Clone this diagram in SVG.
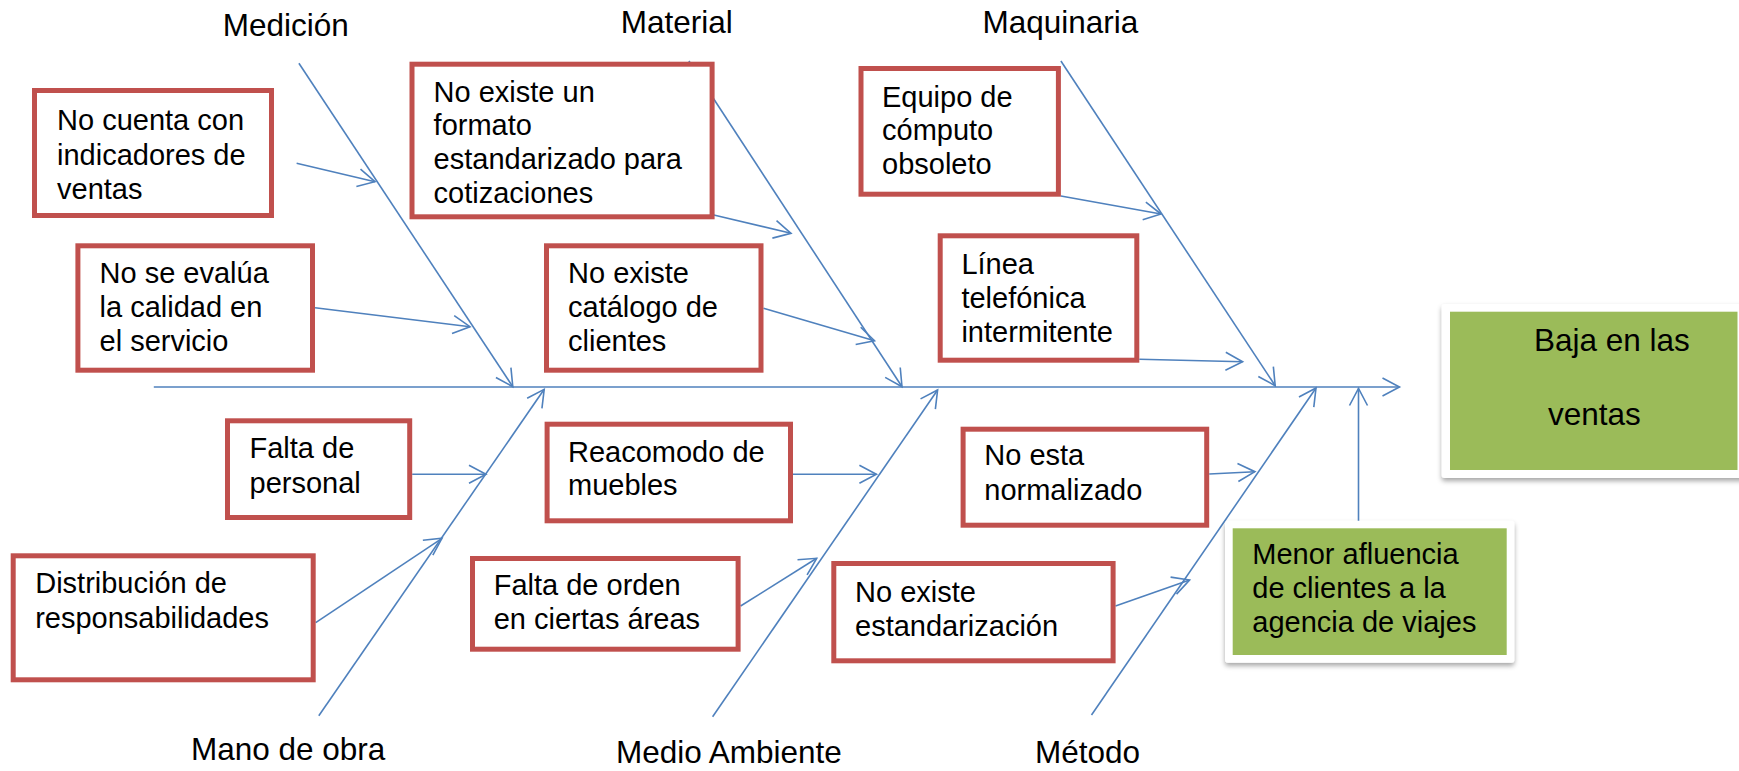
<svg xmlns="http://www.w3.org/2000/svg" width="1739" height="771" viewBox="0 0 1739 771">
<style>
.t{font-family:"Liberation Sans",Arial,sans-serif;font-size:29px;fill:#000}
.lbl{font-family:"Liberation Sans",Arial,sans-serif;font-size:31.5px;fill:#000}
.box{fill:#fff;stroke:#C0504D;stroke-width:5}
.ln{fill:none;stroke:#4F81BD;stroke-width:1.6;marker-end:url(#ah)}
.card{fill:#fff;filter:url(#sh)}
.grn{fill:#9BBB59}
</style>
<defs>
<marker id="ah" viewBox="-19 -11 22 22" markerWidth="22" markerHeight="22" refX="0" refY="0" orient="auto" markerUnits="userSpaceOnUse">
<path d="M-17,-9 L0,0 L-17,9" fill="none" stroke="#4F81BD" stroke-width="1.6"/>
</marker>
<filter id="sh" x="-10%" y="-10%" width="120%" height="130%">
<feDropShadow dx="0" dy="3" stdDeviation="2.5" flood-color="#000" flood-opacity="0.35"/>
</filter>
</defs>

<g id="labels">
<text class="lbl" x="222.7" y="36">Medición</text>
<text class="lbl" x="620.8" y="33">Material</text>
<text class="lbl" x="982.4" y="33">Maquinaria</text>
<text class="lbl" x="191" y="760">Mano de obra</text>
<text class="lbl" x="616" y="763">Medio Ambiente</text>
<text class="lbl" x="1035" y="763">Método</text>
</g>

<g id="connectors">
<line class="ln" x1="153.8" y1="387" x2="1399.5" y2="387"/>
<line class="ln" x1="298.9" y1="63.3" x2="512.8" y2="386.7"/>
<line class="ln" x1="688.9" y1="61" x2="902" y2="386.7"/>
<line class="ln" x1="1060.9" y1="61" x2="1275.2" y2="385.7"/>
<line class="ln" x1="318.8" y1="715.7" x2="544.2" y2="389.3"/>
<line class="ln" x1="712.6" y1="716.7" x2="937.6" y2="390"/>
<line class="ln" x1="1091.5" y1="715" x2="1316" y2="388"/>
<line class="ln" x1="1358.5" y1="526" x2="1358.5" y2="388.5"/>
<line class="ln" x1="296.6" y1="163.3" x2="375" y2="181.7"/>
<line class="ln" x1="315" y1="307.7" x2="470" y2="326.7"/>
<line class="ln" x1="713.8" y1="215" x2="791" y2="233.3"/>
<line class="ln" x1="763.5" y1="308.3" x2="874.5" y2="340.7"/>
<line class="ln" x1="1060.9" y1="196" x2="1161" y2="214"/>
<line class="ln" x1="1139.3" y1="359.3" x2="1242.6" y2="361.7"/>
<line class="ln" x1="412.2" y1="474.3" x2="486" y2="474.3"/>
<line class="ln" x1="315.7" y1="622.7" x2="442" y2="538.3"/>
<line class="ln" x1="793" y1="474.3" x2="876.4" y2="474.3"/>
<line class="ln" x1="740.6" y1="606" x2="816.7" y2="558.3"/>
<line class="ln" x1="1209.2" y1="474" x2="1254.9" y2="471.7"/>
<line class="ln" x1="1115.5" y1="606" x2="1189.6" y2="580"/>
</g>

<g id="n-indicadores">
<rect class="box" x="34.5" y="90.5" width="237" height="125"/>
<text class="t" x="57" y="130">No cuenta con</text>
<text class="t" x="57" y="164.5">indicadores de</text>
<text class="t" x="57" y="198.5">ventas</text>
</g>
<g id="n-calidad">
<rect class="box" x="77.9" y="245.8" width="234.6" height="124.4"/>
<text class="t" x="99.5" y="283.3">No se evalúa</text>
<text class="t" x="99.5" y="317.3">la calidad en</text>
<text class="t" x="99.5" y="350.7">el servicio</text>
</g>
<g id="n-formato">
<rect class="box" x="412" y="64.2" width="300.1" height="152.6"/>
<text class="t" x="433.6" y="101.7">No existe un</text>
<text class="t" x="433.6" y="135.3">formato</text>
<text class="t" x="433.6" y="169">estandarizado para</text>
<text class="t" x="433.6" y="202.7">cotizaciones</text>
</g>
<g id="n-catalogo">
<rect class="box" x="546.5" y="245.8" width="214.5" height="124.4"/>
<text class="t" x="568" y="283.3">No existe</text>
<text class="t" x="568" y="317.3">catálogo de</text>
<text class="t" x="568" y="350.7">clientes</text>
</g>
<g id="n-equipo">
<rect class="box" x="861" y="68.5" width="197.4" height="125.7"/>
<text class="t" x="882" y="106.7">Equipo de</text>
<text class="t" x="882" y="140.3">cómputo</text>
<text class="t" x="882" y="174">obsoleto</text>
</g>
<g id="n-linea">
<rect class="box" x="940.2" y="235.8" width="196.6" height="124.4"/>
<text class="t" x="961.4" y="274">Línea</text>
<text class="t" x="961.4" y="308">telefónica</text>
<text class="t" x="961.4" y="342">intermitente</text>
</g>
<g id="n-personal">
<rect class="box" x="227.5" y="420.8" width="182.2" height="96.7"/>
<text class="t" x="249.5" y="458.3">Falta de</text>
<text class="t" x="249.5" y="493.3">personal</text>
</g>
<g id="n-distribucion">
<rect class="box" x="13.2" y="555.8" width="300" height="124"/>
<text class="t" x="35.2" y="593.3">Distribución de</text>
<text class="t" x="35.2" y="628.3">responsabilidades</text>
</g>
<g id="n-reacomodo">
<rect class="box" x="547.1" y="424.2" width="243.4" height="96.6"/>
<text class="t" x="568" y="461.7">Reacomodo de</text>
<text class="t" x="568" y="495">muebles</text>
</g>
<g id="n-orden">
<rect class="box" x="472.5" y="558.5" width="265.6" height="90.7"/>
<text class="t" x="493.7" y="595">Falta de orden</text>
<text class="t" x="493.7" y="629.3">en ciertas áreas</text>
</g>
<g id="n-normalizado">
<rect class="box" x="963.1" y="429.2" width="243.6" height="96"/>
<text class="t" x="984.3" y="465">No esta</text>
<text class="t" x="984.3" y="500">normalizado</text>
</g>
<g id="n-estandarizacion">
<rect class="box" x="833.8" y="563.5" width="279.3" height="97.3"/>
<text class="t" x="855" y="601.7">No existe</text>
<text class="t" x="855" y="636">estandarización</text>
</g>
<g id="n-menor">
<rect class="card" x="1225" y="520.7" width="289.3" height="142" rx="3"/>
<rect class="grn" x="1232.7" y="528.3" width="274" height="126.7"/>
<text class="t" x="1252.3" y="564">Menor afluencia</text>
<text class="t" x="1252.3" y="598.3">de clientes a la</text>
<text class="t" x="1252.3" y="632.3">agencia de viajes</text>
</g>
<g id="n-baja">
<rect class="card" x="1441.7" y="304" width="310" height="174" rx="3"/>
<rect class="grn" x="1450" y="311.7" width="287.5" height="158.3"/>
<text class="lbl" x="1534" y="351">Baja en las</text>
<text class="lbl" x="1548" y="425">ventas</text>
</g>
</svg>
